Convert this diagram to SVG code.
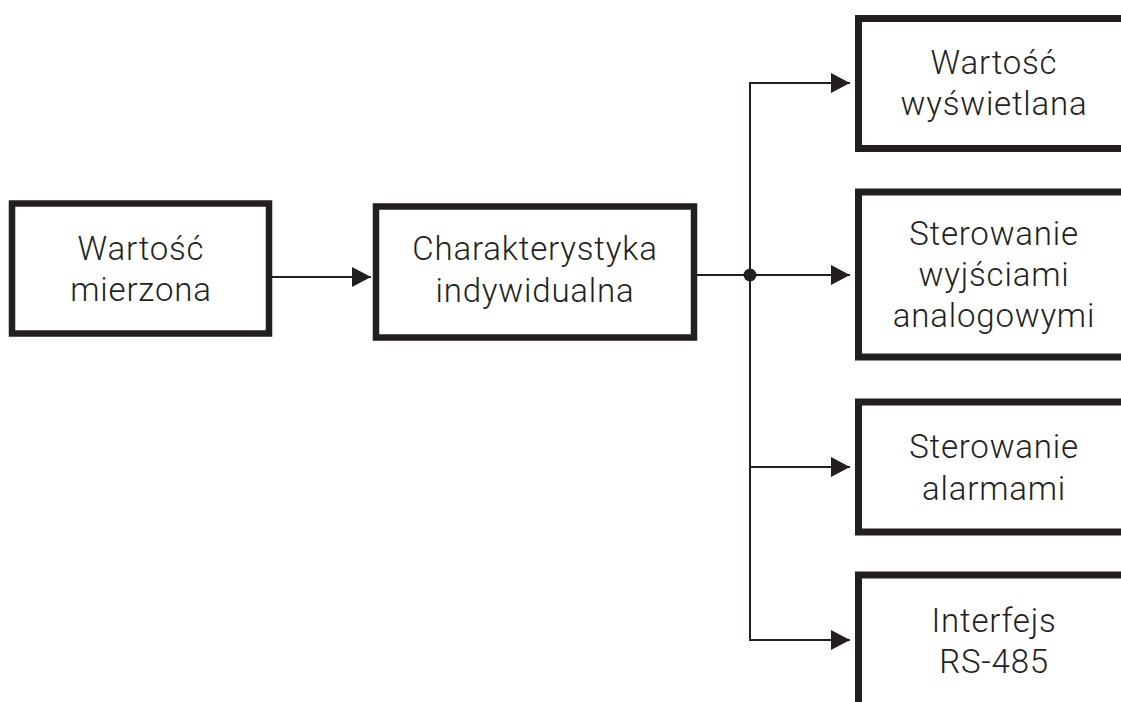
<svg xmlns="http://www.w3.org/2000/svg" width="1121" height="702" viewBox="0 0 1121 702">
<style>
.box{fill:#fff;stroke:#231f20;stroke-width:6.5}
.rbox{fill:#fff;stroke:#231f20;stroke-width:7}
.lbl{font-family:Roboto,"Liberation Sans",Arial,sans-serif;font-weight:300;font-size:33px;letter-spacing:0.8px;fill:#231f20;text-anchor:middle}
.ln{fill:none;stroke:#231f20;stroke-width:2}
</style>
<defs>
<marker id="ah" markerUnits="userSpaceOnUse" markerWidth="20" markerHeight="20" viewBox="0 0 19 20" refX="19" refY="10" orient="auto">
<path d="M0,0 L19,10 L0,20 Z" fill="#231f20"/>
</marker>
</defs>
<rect width="1121" height="702" fill="#fff"/>
<g id="n1">
<rect class="box" x="12" y="203.5" width="257" height="130"/>
<text class="lbl" x="141" y="259.5">Wartość</text>
<text class="lbl" x="141" y="301">mierzona</text>
</g>
<g id="n2">
<rect class="box" x="376" y="206.5" width="318" height="131"/>
<text class="lbl" x="535" y="260">Charakterystyka</text>
<text class="lbl" x="535" y="301.5">indywidualna</text>
</g>
<g id="n3">
<rect class="rbox" x="858.5" y="18.5" width="300" height="130"/>
<text class="lbl" x="994" y="73.5">Wartość</text>
<text class="lbl" x="994" y="115">wyświetlana</text>
</g>
<g id="n4">
<rect class="rbox" x="858.5" y="192" width="300" height="165"/>
<text class="lbl" x="994" y="244.5">Sterowanie</text>
<text class="lbl" x="994" y="285.5">wyjściami</text>
<text class="lbl" x="994" y="326.5">analogowymi</text>
</g>
<g id="n5">
<rect class="rbox" x="858.5" y="402" width="300" height="130"/>
<text class="lbl" x="994" y="458">Sterowanie</text>
<text class="lbl" x="994" y="500">alarmami</text>
</g>
<g id="n6">
<rect class="rbox" x="858.5" y="575" width="300" height="160"/>
<text class="lbl" x="994" y="631.5">Interfejs</text>
<text class="lbl" x="994" y="672.5">RS-485</text>
</g>
<g id="connectors">
<line class="ln" x1="272" y1="277" x2="371" y2="277" marker-end="url(#ah)"/>
<line class="ln" x1="697" y1="275" x2="750" y2="275"/>
<line class="ln" x1="750" y1="83" x2="750" y2="640"/>
<line class="ln" x1="749" y1="83" x2="850" y2="83" marker-end="url(#ah)"/>
<line class="ln" x1="750" y1="275" x2="850" y2="275" marker-end="url(#ah)"/>
<line class="ln" x1="749" y1="467" x2="850" y2="467" marker-end="url(#ah)"/>
<line class="ln" x1="749" y1="640" x2="850" y2="640" marker-end="url(#ah)"/>
<circle cx="750" cy="275" r="6.5" fill="#231f20"/>
</g>
</svg>
